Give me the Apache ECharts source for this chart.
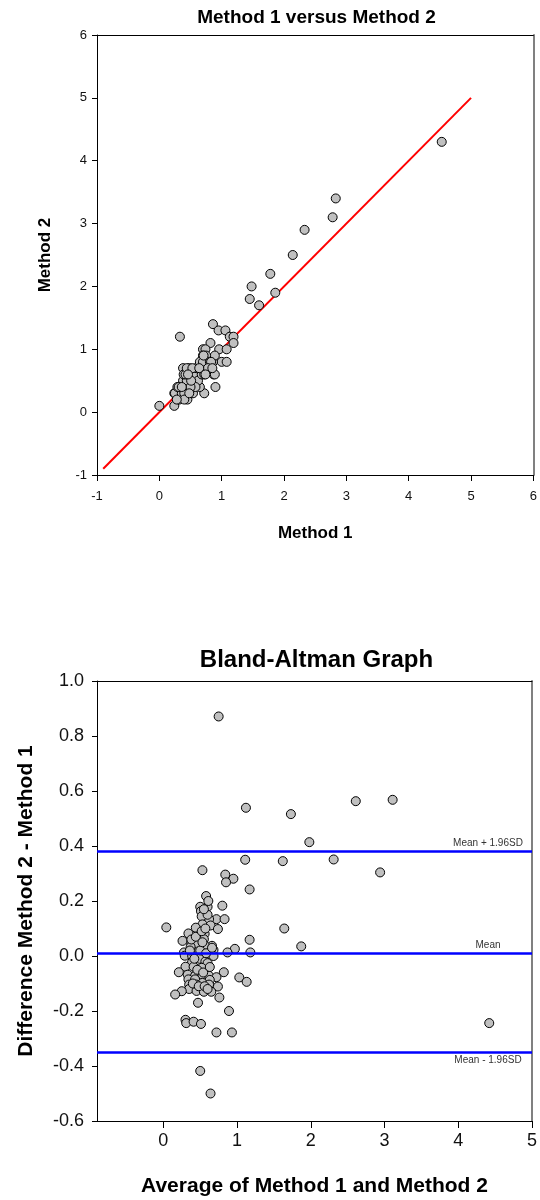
<!DOCTYPE html>
<html>
<head>
<meta charset="utf-8">
<script src="https://cdn.jsdelivr.net/npm/echarts@6/dist/echarts.min.js"></script>
<style>
html,body{margin:0;padding:0;background:#fff;}
#chart{width:540px;height:1200px;}
</style>
</head>
<body>
<div id="chart"></div>
<script>
// ---- Top chart: Method 1 versus Method 2 ----
const method1 = [4.53,2.83,2.78,2.33,2.14,1.78,1.48,1.45,1.60,1.86,
  0.33,0.86,0.95,1.06,1.13,1.19,1.19,0.82,0.96,1.08,0.70,0.74,1.00,1.08,0.86,0.89,0.75,0.70,0.87,0.90,0.72,0.00,0.24,0.24,0.32,0.45,0.54,0.38,
  0.25,0.36,0.29,0.33,0.43,0.54,0.65,0.38,0.48,0.59,0.44,0.39,0.49,0.59,0.67,0.42,0.55,0.48,0.59,0.69,0.77,0.44,0.53,0.65,0.70,0.81,0.71,0.83,
  0.89,0.62,0.68,0.72,0.78,0.85,0.58,0.50,0.40,0.31,0.36,0.51,0.46,0.64,0.74,0.40,0.48,0.28];
const method2 = [4.3,3.4,3.1,2.9,2.5,2.2,2.0,1.8,1.7,1.9,
  1.2,1.4,1.3,1.3,1.2,1.2,1.1,1.1,1.0,1.0,1.0,1.0,0.8,0.8,0.8,0.9,0.9,0.9,0.6,0.4,0.3,0.1,0.1,0.3,0.2,0.2,0.3,0.7,
  0.3,0.3,0.4,0.4,0.4,0.4,0.4,0.5,0.5,0.5,0.5,0.6,0.6,0.6,0.6,0.6,0.6,0.7,0.7,0.7,0.7,0.7,0.7,0.8,0.8,0.8,0.9,0.8,
  0.6,0.5,0.6,0.6,0.7,0.7,0.4,0.4,0.3,0.4,0.4,0.5,0.6,0.7,0.6,0.2,0.3,0.2];
const identityLine = [[-0.9,-0.9],[5,5]];
const topTicks = [-1,0,1,2,3,4,5,6];

// ---- Bottom chart: Bland-Altman ----
const baAverage = [0.75,1.12,1.73,2.61,3.11,1.98,1.11,1.62,2.31,2.94,
  0.53,0.84,0.95,0.85,1.17,0.58,0.80,0.60,0.50,0.51,0.72,0.83,0.62,0.52,0.53,0.64,0.74,0.04,0.44,1.64,
  0.56,0.34,0.55,1.17,0.26,1.87,0.38,0.47,0.66,0.37,0.56,0.68,0.97,0.87,1.18,0.28,0.47,0.58,0.68,0.29,
  0.39,0.49,0.57,0.39,0.60,0.30,0.41,0.52,0.21,0.82,0.33,0.43,0.53,0.62,0.72,1.03,0.34,0.43,0.63,1.13,
  0.53,0.35,0.45,0.62,0.74,0.35,0.45,0.25,0.55,0.65,0.16,0.76,0.47,0.89,0.30,0.31,0.41,0.51,0.72,0.93,
  4.42,0.50,0.64,
  0.36,0.42,0.46,0.50,0.54,0.58,0.63,0.66,0.40,0.48,0.56,0.60,0.38,0.44,0.52,0.57,0.60,0.61,0.55,0.53];
const baDifference = [0.871,0.539,0.516,0.563,0.568,0.414,0.350,0.345,0.351,0.304,
  0.312,0.296,0.281,0.268,0.242,0.218,0.183,0.179,0.179,0.163,0.134,0.134,0.134,0.144,0.115,0.111,0.098,0.104,0.103,0.100,
  0.081,0.082,0.061,0.059,0.055,0.035,0.046,0.043,0.037,0.033,0.039,0.022,0.026,0.013,0.013,0.013,0.016,-0.004,0.000,0.001,
  0.001,-0.010,-0.020,-0.022,-0.026,-0.039,-0.039,-0.043,-0.059,-0.059,-0.068,-0.072,-0.069,-0.072,-0.077,-0.078,-0.085,-0.085,-0.087,-0.094,
  -0.098,-0.104,-0.104,-0.104,-0.111,-0.120,-0.127,-0.128,-0.130,-0.130,-0.140,-0.151,-0.170,-0.200,-0.232,-0.244,-0.239,-0.247,-0.278,-0.278,
  -0.244,-0.418,-0.500,
  0.020,-0.010,-0.050,0.020,-0.060,0.010,-0.040,0.030,-0.100,-0.110,-0.110,-0.120,0.060,0.070,0.090,0.100,0.150,0.200,0.170,0.050];
const refValues = [0.378, 0.012, -0.352];
const refLabels = ['Mean + 1.96SD', 'Mean', 'Mean - 1.96SD'];
const baXTicks = [0,1,2,3,4,5];

const FONT = '"Liberation Sans", Arial, Helvetica, sans-serif';
const topPts = method1.map((v,i)=>[v, method2[i]]);
const baPts = baAverage.map((v,i)=>[v, baDifference[i]]);

const chart = echarts.init(document.getElementById('chart'), null, {renderer:'canvas'});

const axisCommon = {
  axisLine:{show:true, onZero:false, lineStyle:{color:'#000', width:1}},
  splitLine:{show:false},
  nameLocation:'middle',
};
// frame-only axes (top black line, right gray line)
function frameX(gi, min, max){
  return {gridIndex:gi, type:'value', position:'top', min:min, max:max,
    axisLine:{show:true, onZero:false, lineStyle:{color:'#000', width:1}},
    axisTick:{show:false}, axisLabel:{show:false}, splitLine:{show:false}};
}
function frameY(gi, min, max){
  return {gridIndex:gi, type:'value', position:'right', min:min, max:max,
    axisLine:{show:true, onZero:false, lineStyle:{color:'#808080', width:2}},
    axisTick:{show:false}, axisLabel:{show:false}, splitLine:{show:false}};
}

chart.setOption({
  animation:false,
  backgroundColor:'#fff',
  title:[
    {text:'Method 1 versus Method 2', left:316.5, top:8, padding:0, textAlign:'center', textVerticalAlign:'top',
     textStyle:{fontFamily:FONT, fontSize:19, fontWeight:'bold', color:'#000', lineHeight:19}},
    {text:'Bland-Altman Graph', left:316.5, top:648, padding:0, textAlign:'center', textVerticalAlign:'top',
     textStyle:{fontFamily:FONT, fontSize:24, fontWeight:'bold', color:'#000', lineHeight:24}}
  ],
  grid:[
    {left:97, top:35, width:439, height:440, show:false},
    {left:97, top:681, width:439, height:440, show:false}
  ],
  xAxis:[
    Object.assign({}, axisCommon, {
      gridIndex:0, type:'value', position:'bottom', min:-1, max:6, interval:1,
      axisTick:{show:true, inside:false, length:6, lineStyle:{color:'#000'}, customValues:topTicks},
      axisLabel:{margin:15, fontFamily:FONT, fontSize:13, color:'#111', customValues:topTicks},
      name:'Method 1', nameGap:50,
      nameTextStyle:{fontFamily:FONT, fontSize:17, fontWeight:'bold', color:'#000'}
    }),
    Object.assign({}, axisCommon, {
      gridIndex:1, type:'value', position:'bottom', min:-0.9, max:5,
      axisTick:{show:true, inside:false, length:7, lineStyle:{color:'#000'}, customValues:baXTicks},
      axisLabel:{margin:11, fontFamily:FONT, fontSize:18, color:'#111', customValues:baXTicks},
      name:'Average of Method 1 and Method 2', nameGap:55,
      nameTextStyle:{fontFamily:FONT, fontSize:21, fontWeight:'bold', color:'#000'}
    }),
    frameX(0, -1, 6),
    frameX(1, -0.9, 5)
  ],
  yAxis:[
    Object.assign({}, axisCommon, {
      gridIndex:0, type:'value', position:'left', min:-1, max:6, interval:1,
      axisTick:{show:true, inside:false, length:5, lineStyle:{color:'#000'}},
      axisLabel:{margin:10, fontFamily:FONT, fontSize:13, color:'#111'},
      name:'Method 2', nameGap:43, nameRotate:90,
      nameTextStyle:{fontFamily:FONT, fontSize:17, fontWeight:'bold', color:'#000'}
    }),
    Object.assign({}, axisCommon, {
      gridIndex:1, type:'value', position:'left', min:-0.6, max:1.0, interval:0.2,
      axisTick:{show:true, inside:false, length:5, lineStyle:{color:'#000'}},
      axisLabel:{margin:13, fontFamily:FONT, fontSize:18, color:'#111',
        formatter:(v)=>(Math.abs(v)<1e-9?0:v).toFixed(1)},
      name:'Difference Method 2 - Method 1', nameGap:60, nameRotate:90,
      nameTextStyle:{fontFamily:FONT, fontSize:21, fontWeight:'bold', color:'#000'}
    }),
    frameY(0, -1, 6),
    frameY(1, -0.6, 1.0)
  ],
  series:[
    {type:'line', xAxisIndex:0, yAxisIndex:0, data:identityLine, symbol:'none',
     lineStyle:{color:'#ff0000', width:2}, z:3},
    {type:'scatter', xAxisIndex:0, yAxisIndex:0, data:topPts, symbol:'circle', symbolSize:9,
     itemStyle:{color:'#c0c0c0', borderColor:'#000', borderWidth:1, opacity:1}, z:4},
    {type:'scatter', xAxisIndex:1, yAxisIndex:1, data:baPts, symbol:'circle', symbolSize:9,
     itemStyle:{color:'#c0c0c0', borderColor:'#000', borderWidth:1, opacity:1}, z:4,
     markLine:{
       silent:true, symbol:['none','none'], animation:false,
       lineStyle:{color:'#0000ff', width:2.5, type:'solid'},
       data: refValues.map((v,i)=>({
         yAxis:v,
         label:{show:true, formatter:refLabels[i],
           position: i===2 ? 'insideEndBottom' : 'insideEndTop',
           align:'center', distance:[44, 3],
           fontFamily:FONT, fontSize:10, color:'#333'}
       }))
     }}
  ]
});
</script>
</body>
</html>
